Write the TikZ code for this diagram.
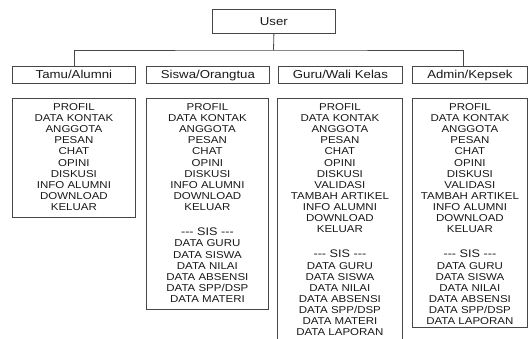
\documentclass[tikz,border=0pt]{standalone}
\usepackage{fontspec}
\setmainfont[FakeStretch=1.15]{Liberation Sans}
\begin{document}
\begin{tikzpicture}[x=1pt,y=-1pt,
  line/.style={draw=black!72, line width=0.8pt},
  hbox/.style={line, rectangle, inner sep=0pt, anchor=north west,
    font=\fontsize{11.5}{13}\selectfont, text height=8.3pt, text depth=0pt, text=black!90},
  cbox/.style={line, rectangle, inner sep=0pt, anchor=north west},
  list/.style={align=center, inner sep=0pt, anchor=north,
    font=\fontsize{10}{11.1}\selectfont, text=black!90},
  sis/.style={}]
\useasboundingbox (0,0) rectangle (528,338);
\newcommand{\sisline}{{\fontsize{11}{11.1}\selectfont -{}-{}- SIS -{}-{}-}}

% top
\node[hbox, minimum width=123pt, minimum height=24pt] (user) at (212,9) {User};

% headers
\node[hbox, minimum width=123pt, minimum height=16.5pt] (tamu)  at (12,66)  {Tamu/Alumni};
\node[hbox, minimum width=123pt, minimum height=16.5pt] (siswa) at (146,66) {Siswa/Orangtua};
\node[hbox, minimum width=124pt, minimum height=16.5pt] (guru)  at (278,66) {Guru/Wali Kelas};
\node[hbox, minimum width=115pt, minimum height=16.5pt] (admin) at (412,66) {Admin/Kepsek};

% connectors
\coordinate (bus) at (273.5,50);
\coordinate (adminx) at (463,0);
\draw[line] (user.south) -- (bus);
\draw[line] (tamu.north) |- (bus) -| (admin.north -| adminx);

% content boxes
\node[cbox, minimum width=123pt, minimum height=119pt] (tamuC)  at (12,98)  {};
\node[cbox, minimum width=122pt, minimum height=211pt] (siswaC) at (146,98) {};
\node[cbox, minimum width=125pt, minimum height=260pt] (guruC)  at (277,98) {};
\node[cbox, minimum width=115pt, minimum height=229pt] (adminC) at (412,98) {};

\node[list] (tamuT) at ([yshift=-5.4pt]tamuC.north) {PROFIL\\DATA KONTAK\\ANGGOTA\\PESAN\\CHAT\\OPINI\\DISKUSI\\INFO ALUMNI\\DOWNLOAD\\KELUAR};

\node[list] (siswaT) at ([yshift=-5.4pt]siswaC.north) {PROFIL\\DATA KONTAK\\ANGGOTA\\PESAN\\CHAT\\OPINI\\DISKUSI\\INFO ALUMNI\\DOWNLOAD\\KELUAR\\[13.8pt]
\sisline\\[0.5pt]
DATA GURU\\DATA SISWA\\DATA NILAI\\DATA ABSENSI\\DATA SPP/DSP\\DATA MATERI};

\node[list] (guruT) at ([yshift=-5.4pt]guruC.north) {PROFIL\\DATA KONTAK\\ANGGOTA\\PESAN\\CHAT\\OPINI\\DISKUSI\\VALIDASI\\TAMBAH ARTIKEL\\INFO ALUMNI\\DOWNLOAD\\KELUAR\\[13.8pt]
\sisline\\[0.5pt]
DATA GURU\\DATA SISWA\\DATA NILAI\\DATA ABSENSI\\DATA SPP/DSP\\DATA MATERI\\DATA LAPORAN};

\node[list] (adminT) at ([yshift=-5.4pt]adminC.north) {PROFIL\\DATA KONTAK\\ANGGOTA\\PESAN\\CHAT\\OPINI\\DISKUSI\\VALIDASI\\TAMBAH ARTIKEL\\INFO ALUMNI\\DOWNLOAD\\KELUAR\\[13.8pt]
\sisline\\[0.5pt]
DATA GURU\\DATA SISWA\\DATA NILAI\\DATA ABSENSI\\DATA SPP/DSP\\DATA LAPORAN};
\end{tikzpicture}
\end{document}
